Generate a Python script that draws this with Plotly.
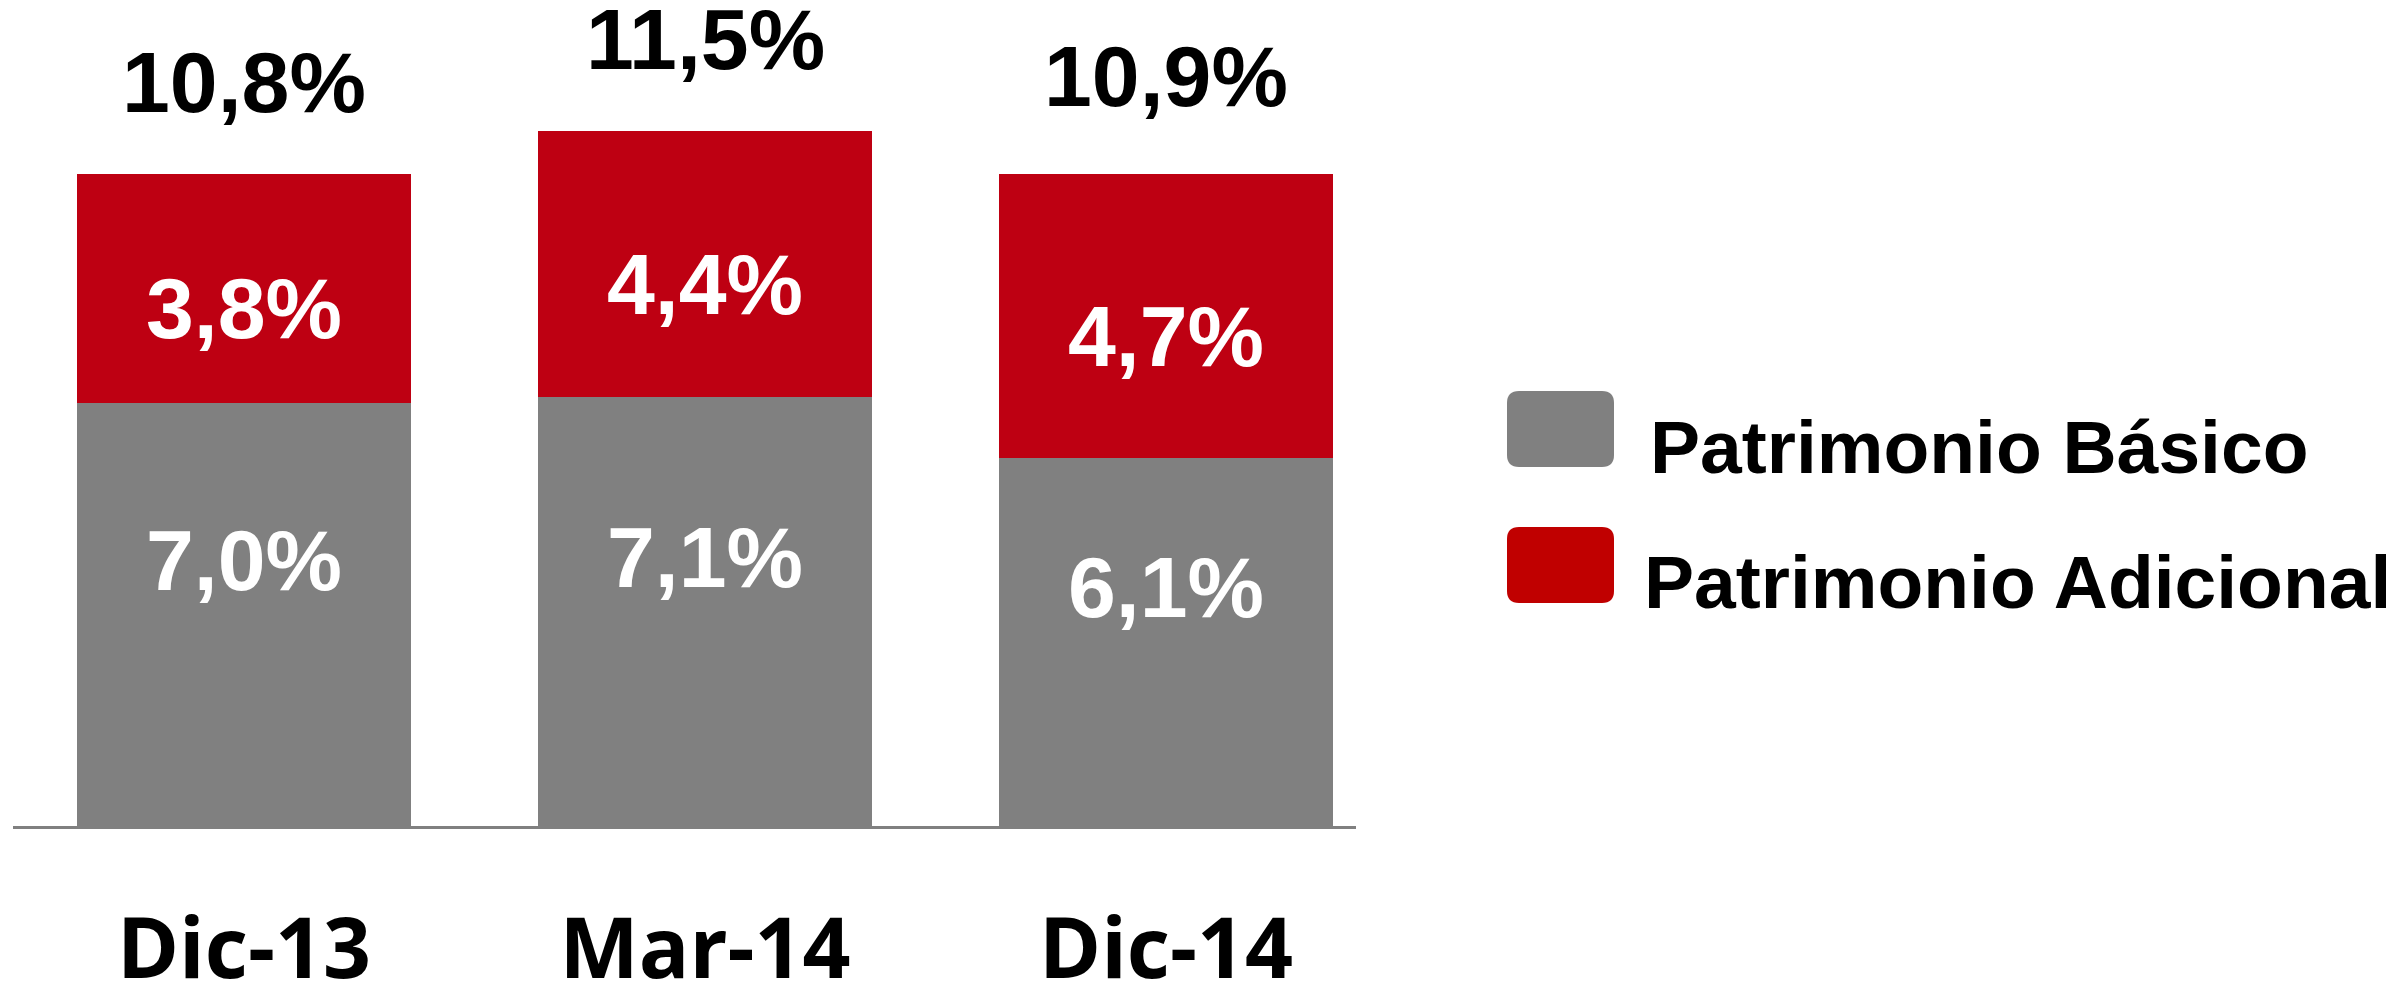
import plotly.graph_objects as go

# ---- data ----
categories = ["Dic-13", "Mar-14", "Dic-14"]
basico = [7.0, 7.1, 6.1]
adicional = [3.8, 4.4, 4.7]
totales = [10.8, 11.5, 10.9]
series_names = ["Patrimonio Básico", "Patrimonio Adicional"]

# ---- style ----
OFF = 8  # browser default body margin
W, H = 2403 - OFF, 994 - OFF
ML, MR, MT, MB = 13 - OFF, 1047, 20 - OFF, 168
PW, PH = W - ML - MR, H - MT - MB
GRAY = "#808080"
RED_BAR = "#BE0012"
RED_LEG = "#C00000"
NUM_FONT = "Liberation Sans, Arial, sans-serif"
CAT_FONT = "Open Sans, sans-serif"


def fmt(v):
    return f"{v:.1f}".replace(".", ",") + "%"


fig = go.Figure()
fig.add_bar(x=categories, y=basico, name=series_names[0], marker_color=GRAY,
            marker_line_width=0, width=0.725, showlegend=False)
fig.add_bar(x=categories, y=adicional, name=series_names[1], marker_color=RED_BAR,
            marker_line_width=0, width=0.725, showlegend=False)

annotations = []
for c, b, a, t in zip(categories, basico, adicional, totales):
    annotations.append(dict(x=c, y=b / 2, text=fmt(b), showarrow=False,
                            yanchor="middle", yshift=55,
                            font=dict(family=NUM_FONT, size=86, color="white", weight="bold")))
    annotations.append(dict(x=c, y=b + a / 2, text=fmt(a), showarrow=False,
                            yanchor="middle", yshift=-20,
                            font=dict(family=NUM_FONT, size=86, color="white", weight="bold")))
    annotations.append(dict(x=c, y=t, text=fmt(t), showarrow=False,
                            yanchor="bottom", yshift=42,
                            font=dict(family=NUM_FONT, size=86, color="black", weight="bold")))


def px2paper(px, py):
    # page pixel coords -> paper coords
    return (px - OFF - ML) / PW, (H - MB - (py - OFF)) / PH


def rounded_rect(x0, y0, x1, y1, r):
    rx, ry = r / PW, r / PH
    X0, Y0 = px2paper(x0, y1)
    X1, Y1 = px2paper(x1, y0)
    return (f"M {X0+rx},{Y0} L {X1-rx},{Y0} Q {X1},{Y0} {X1},{Y0+ry} "
            f"L {X1},{Y1-ry} Q {X1},{Y1} {X1-rx},{Y1} L {X0+rx},{Y1} "
            f"Q {X0},{Y1} {X0},{Y1-ry} L {X0},{Y0+ry} Q {X0},{Y0} {X0+rx},{Y0} Z")


shapes = []
leg_colors = [GRAY, RED_LEG]
leg_boxes = [(1507, 391, 1614, 467), (1507, 527, 1614, 603)]
leg_text_pos = [(1648, 447), (1642, 582)]
for name, col, box, tp in zip(series_names, leg_colors, leg_boxes, leg_text_pos):
    shapes.append(dict(type="path", xref="paper", yref="paper",
                       path=rounded_rect(*box, 12), fillcolor=col, line_width=0))
    tx, ty = px2paper(*tp)
    annotations.append(dict(xref="paper", yref="paper", x=tx, y=ty, text=name,
                            showarrow=False, xanchor="left", yanchor="middle",
                            font=dict(family=NUM_FONT, size=75, color="black", weight="bold")))

fig.update_layout(
    barmode="stack",
    width=W, height=H,
    margin=dict(l=ML, r=MR, t=MT, b=MB, autoexpand=False),
    paper_bgcolor="white", plot_bgcolor="white",
    annotations=annotations, shapes=shapes,
    showlegend=False,
)
fig.update_xaxes(range=[-0.501, 2.412], showline=True, linecolor=GRAY, linewidth=3,
                 showgrid=False, zeroline=False, ticks="", automargin=False,
                 ticklabelstandoff=48,
                 tickfont=dict(family=CAT_FONT, size=84, color="black", weight="bold"))
fig.update_yaxes(range=[0, PH / 60.4], visible=False, showgrid=False, zeroline=False)

fig.write_html("out.html")
